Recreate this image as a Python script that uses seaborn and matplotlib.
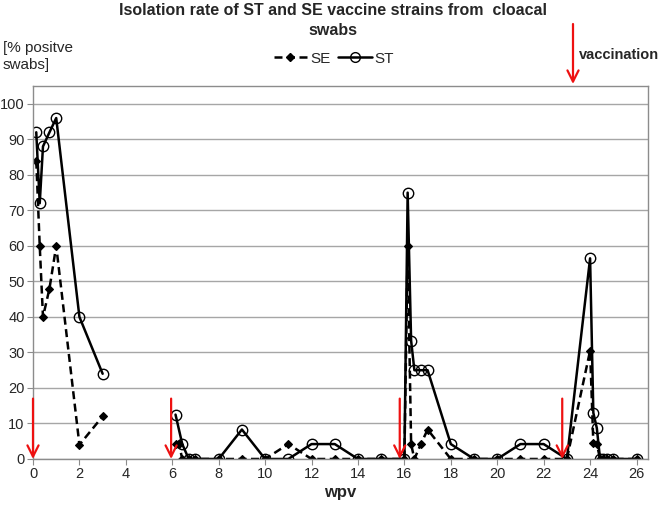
import numpy as np
import pandas as pd
import matplotlib
matplotlib.use("Agg")
import matplotlib.pyplot as plt
import seaborn as sns
from matplotlib.lines import Line2D

# ---- data (weeks post vaccination, % positive swabs) ----
se_wpv_1 = [0.14, 0.29, 0.43, 0.71, 1, 2, 3]
se_val_1 = [84, 60, 40, 48, 60, 4, 12]
st_wpv_1 = [0.14, 0.29, 0.43, 0.71, 1, 2, 3]
st_val_1 = [92, 72, 88, 92, 96, 40, 24]

se_wpv_2 = [6.14, 6.29, 6.43, 6.71, 7, 8, 9, 10, 11, 12, 13, 14, 15, 16,
            16.14, 16.29, 16.43, 16.71, 17, 18, 19, 20, 21, 22, 23,
            24, 24.14, 24.29, 24.43, 24.57, 24.71, 25, 26]
se_val_2 = [4.2, 4.2, 0, 0, 0, 0, 0, 0, 4.2, 0, 0, 0, 0, 0,
            60, 4.2, 0, 4.2, 8.3, 0, 0, 0, 0, 0, 0,
            30.5, 4.5, 4.3, 0, 0, 0, 0, 0]
st_wpv_2 = [6.14, 6.43, 6.71, 7, 8, 9, 10, 11, 12, 13, 14, 15, 16,
            16.14, 16.29, 16.43, 16.71, 17, 18, 19, 20, 21, 22, 23,
            24, 24.14, 24.29, 24.43, 24.57, 24.71, 25, 26]
st_val_2 = [12.5, 4.2, 0, 0, 0, 8.3, 0, 0, 4.2, 4.2, 0, 0, 0,
            75, 33.3, 25, 25, 25, 4.2, 0, 0, 4.2, 4.2, 0,
            56.5, 13, 8.7, 0, 0, 0, 0, 0]

vacc_weeks = [0, 5.95, 15.8, 22.8]
x_ticks = list(range(0, 27, 2))
y_ticks = list(range(0, 101, 10))

rows = []
for strain, seg, xs, ys in [("SE", 1, se_wpv_1, se_val_1), ("SE", 2, se_wpv_2, se_val_2),
                            ("ST", 1, st_wpv_1, st_val_1), ("ST", 2, st_wpv_2, st_val_2)]:
    for x, y in zip(xs, ys):
        rows.append({"strain": strain, "seg": seg, "wpv": x, "rate": y})
df = pd.DataFrame(rows)

sns.set_style("white")
plt.rcParams["font.family"] = ["Liberation Sans", "DejaVu Sans"]

fig = plt.figure(figsize=(6.6, 5.07), dpi=100)
ax = fig.add_axes([0.05, 0.0947, 0.932, 0.7355])

lw = 1.8
sns.lineplot(data=df[df.strain == "SE"], x="wpv", y="rate", units="seg", estimator=None,
             sort=False, color="black", linestyle=(0, (3.2, 1.8)), lw=lw, marker="D", ms=4.5,
             mec="black", mfc="black", mew=0.8, ax=ax)
sns.lineplot(data=df[df.strain == "ST"], x="wpv", y="rate", units="seg", estimator=None,
             sort=False, color="black", linestyle="-", lw=lw, marker="o", ms=7.5,
             mec="black", mfc="none", mew=1.0, ax=ax)

ax.set_xlim(0, 26.5)
ax.set_ylim(0, 105)
ax.set_xticks(x_ticks)
ax.set_yticks(y_ticks)
ax.yaxis.grid(True, color="#a6a6a6", lw=1.0)
ax.xaxis.grid(False)
ax.set_axisbelow(True)
for s in ax.spines.values():
    s.set_color("#8c8c8c")
    s.set_linewidth(1.0)
ax.tick_params(direction="out", length=4, color="#8c8c8c", labelsize=10.5, pad=2,
               left=True, bottom=True)
ax.set_xlabel("wpv", fontsize=12, fontweight="bold", labelpad=3)
ax.set_ylabel("")

# red arrows marking vaccinations
for xv in vacc_weeks:
    ax.annotate("", xy=(xv, 0), xytext=(xv, 17), xycoords="data",
                arrowprops=dict(arrowstyle="->,head_length=0.8,head_width=0.4",
                                color="#ee1111", lw=1.6, shrinkA=0, shrinkB=0),
                annotation_clip=False)

ax.annotate("", xy=(573, 423), xycoords="figure pixels", xytext=(573, 483),
            textcoords="figure pixels",
            arrowprops=dict(arrowstyle="->,head_length=0.8,head_width=0.4",
                            color="#ee1111", lw=1.6, shrinkA=0, shrinkB=0),
            annotation_clip=False)
fig.text(659 / 660, 1 - 55 / 507, "vaccination", fontsize=10.5, fontweight="bold",
         ha="right", va="center")

fig.text(0.505, 1 - 3 / 507,
         "Isolation rate of ST and SE vaccine strains from  cloacal\nswabs",
         fontsize=11.5, fontweight="bold", ha="center", va="top", linespacing=1.45)
fig.text(3 / 660, 1 - 41 / 507, "[% positve\nswabs]", fontsize=11, ha="left", va="top",
         linespacing=1.3)

handles = [Line2D([], [], color="black", ls=(0, (3.2, 1.8)), lw=lw, marker="D", ms=4.5, mfc="black"),
           Line2D([], [], color="black", ls="-", lw=lw, marker="o", ms=7, mfc="none")]
fig.legend(handles, ["SE", "ST"], loc="center", bbox_to_anchor=(0.506, 0.884), ncol=2,
           frameon=False, fontsize=11, handlelength=2.2, columnspacing=0.5,
           handletextpad=0.2, numpoints=1)

fig.savefig("out.png", dpi=100)
